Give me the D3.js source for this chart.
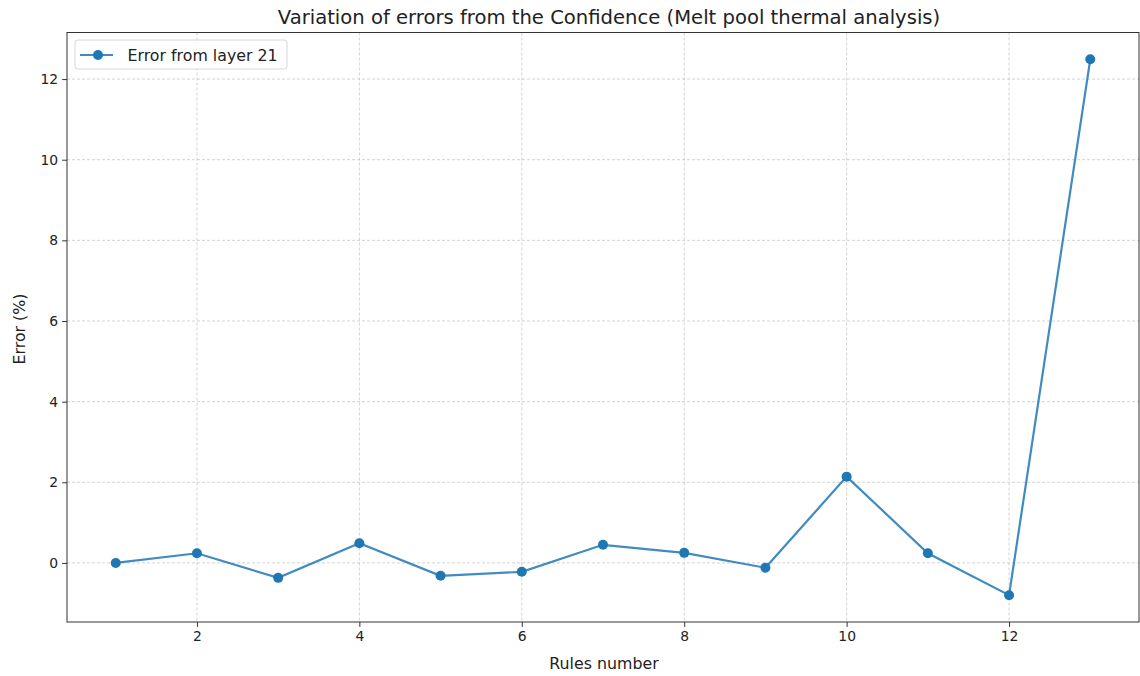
<!DOCTYPE html>
<html lang="en">
<head>
<meta charset="UTF-8">
<title>Variation of errors</title>
<script src="https://cdn.jsdelivr.net/npm/d3@7"></script>
<style>
  body { margin: 0; background: #fff; }
  svg { font-family: "DejaVu Sans", sans-serif; }
</style>
</head>
<body>
<script>
const rules = [1, 2, 3, 4, 5, 6, 7, 8, 9, 10, 11, 12, 13];
const errors = [0, 0.24, -0.37, 0.49, -0.32, -0.22, 0.45, 0.25, -0.12, 2.14, 0.24, -0.80, 12.49];
const xTicks = [2, 4, 6, 8, 10, 12];
const yTicks = [0, 2, 4, 6, 8, 10, 12];
const seriesName = "Error from layer 21";

const width = 1140, height = 676;
const marginLeft = 67, marginRight = 1, marginTop = 32.5, marginBottom = 54;
const color = "#1f77b4";

const data = rules.map((r, i) => ({ x: r, y: errors[i] }));

const x = d3.scaleLinear().domain([0.4, 13.6]).range([marginLeft, width - marginRight]);
const y = d3.scaleLinear().domain([-1.465, 13.155]).range([height - marginBottom, marginTop]);

const svg = d3.select("body").append("svg")
  .attr("width", width).attr("height", height)
  .attr("viewBox", [0, 0, width, height]);

// grid
const grid = svg.append("g").attr("stroke", "#b0b0b0").attr("stroke-opacity", 0.7)
  .attr("stroke-width", 0.8).attr("stroke-dasharray", "3,2");
grid.selectAll(".gx").data(xTicks).join("line")
  .attr("x1", d => x(d)).attr("x2", d => x(d))
  .attr("y1", marginTop).attr("y2", height - marginBottom);
grid.selectAll(".gy").data(yTicks).join("line")
  .attr("x1", marginLeft).attr("x2", width - marginRight)
  .attr("y1", d => y(d)).attr("y2", d => y(d));

// axes
const xAxis = svg.append("g")
  .attr("transform", `translate(0,${height - marginBottom})`)
  .call(d3.axisBottom(x).tickValues(xTicks).tickSize(4.9).tickPadding(4).tickFormat(d3.format("d")));
const yAxis = svg.append("g")
  .attr("transform", `translate(${marginLeft},0)`)
  .call(d3.axisLeft(y).tickValues(yTicks).tickSize(4.9).tickPadding(4).tickFormat(d3.format("d")));
[xAxis, yAxis].forEach(g => {
  g.select(".domain").remove();
  g.selectAll(".tick line").attr("stroke", "#333").attr("stroke-width", 1);
  g.selectAll(".tick text").attr("fill", "#222").attr("font-size", 13.9)
    .attr("font-family", "DejaVu Sans, sans-serif");
});

// frame
svg.append("rect")
  .attr("x", marginLeft).attr("y", marginTop)
  .attr("width", width - marginRight - marginLeft)
  .attr("height", height - marginBottom - marginTop)
  .attr("fill", "none").attr("stroke", "#333").attr("stroke-width", 1);

// line and markers
const line = d3.line().x(d => x(d.x)).y(d => y(d.y));
svg.append("path").datum(data)
  .attr("fill", "none").attr("stroke", color).attr("stroke-opacity", 0.85)
  .attr("stroke-width", 2.2).attr("d", line);
svg.append("g").selectAll("circle").data(data).join("circle")
  .attr("cx", d => x(d.x)).attr("cy", d => y(d.y)).attr("r", 5)
  .attr("fill", color);

// title and labels
svg.append("text").attr("x", (marginLeft + width - marginRight) / 2 + 6).attr("y", 24)
  .attr("text-anchor", "middle").attr("font-size", 19.6).attr("fill", "#222")
  .text("Variation of errors from the Confidence (Melt pool thermal analysis)");
svg.append("text").attr("x", 604).attr("y", 669)
  .attr("text-anchor", "middle").attr("font-size", 15.8).attr("fill", "#222")
  .text("Rules number");
svg.append("text")
  .attr("transform", `translate(25,329) rotate(-90)`)
  .attr("text-anchor", "middle").attr("font-size", 15.8).attr("fill", "#222")
  .text("Error (%)");

// legend
const lg = svg.append("g").attr("transform", "translate(75,40)");
lg.append("rect").attr("width", 212).attr("height", 29).attr("rx", 3)
  .attr("fill", "#fff").attr("fill-opacity", 0.8).attr("stroke", "#d6d6d6");
lg.append("line").attr("x1", 5).attr("x2", 38).attr("y1", 15).attr("y2", 15)
  .attr("stroke", color).attr("stroke-opacity", 0.85).attr("stroke-width", 2.2);
lg.append("circle").attr("cx", 23).attr("cy", 15).attr("r", 5).attr("fill", color);
lg.append("text").attr("x", 52.5).attr("y", 20.5).attr("font-size", 15.8).attr("fill", "#222")
  .text(seriesName);
</script>
</body>
</html>
